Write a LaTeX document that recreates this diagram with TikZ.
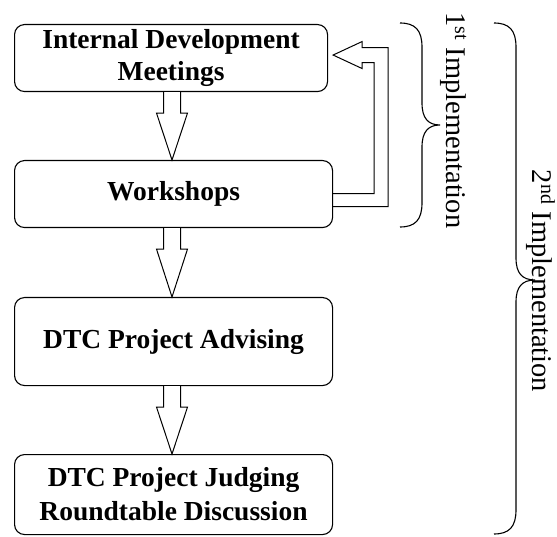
\documentclass[tikz,border=0pt]{standalone}
\usepackage{fontspec}
\setmainfont{Liberation Serif}
\usetikzlibrary{calc}

\newcommand{\blockdown}[2]{%
  \draw[hollow] ($(#1.south west)+(149.5,0)$) -- ++(0,21) -- ++(-7,0)
    -- ($(#2.north west)+(158,0)$) -- ($(#1.south west)+(173.5,21)$)
    -- ++(-7,0) -- ++(0,-21);}

\begin{document}
\begin{tikzpicture}[x=1pt,y=-1pt,
    stage/.style={draw,line width=1.1pt,rounded corners=10pt,anchor=north west,
      align=center,inner sep=0pt,minimum height=#1,
      font=\fontsize{27.5}{32}\selectfont\bfseries},
    hollow/.style={draw,line width=1pt,fill=white,line join=miter},
    brace/.style={line width=1.1pt},
    phase/.style={rotate=-90,anchor=base,font=\fontsize{28.5}{30}\selectfont}]
    \useasboundingbox (0,0) rectangle (557,537);
    \node[stage=67pt,minimum width=313pt] (imd) at (14,24) {Internal Development\\Meetings};
    \node[stage=67pt,minimum width=318pt] (ws) at (14,160) {Workshops};
    \node[stage=88pt,minimum width=318pt] (adv) at (14,297) {DTC Project Advising};
    \node[stage=80pt,minimum width=318pt,font=\fontsize{27.5}{34}\selectfont\bfseries] (jud) at (14,454)
      {DTC Project Judging\\Roundtable Discussion};
    \blockdown{imd}{ws}
    \blockdown{ws}{adv}
    \blockdown{adv}{jud}
    % loop back from workshops
    \draw[hollow,fill=none] ($(ws.east)+(0,12.5)$) -| ($(imd.east)+(60,-10.5)$) -- ++(-26,0)
      -- ++(0,-6) -- ($(imd.east)+(5,-3)$) -- ++(29,13.5) -- ++(0,-6) -- ++(12,0)
      |- ($(ws.east)+(0,-0.5)$);
    % braces
    \draw[brace] (400,23) .. controls (415,23) and (422,30) .. (422,47) -- (422,103)
      .. controls (422,118) and (428,125) .. (440,125) .. controls (428,125) and (422,132) .. (422,147)
      -- (422,203) .. controls (422,220) and (415,227) .. (400,227);
    \draw[brace] (494,23) .. controls (509,23) and (516,30) .. (516,47) -- (516,258)
      .. controls (516,273) and (522,280) .. (535,280) .. controls (522,280) and (516,287) .. (516,302)
      -- (516,510) .. controls (516,527) and (509,534) .. (494,534);
    \node[phase] (first) at (446,120.5) {1\textsuperscript{st} Implementation};
    \node[phase] (second) at (532,281) {2\textsuperscript{nd} Implementation};
\end{tikzpicture}
\end{document}
